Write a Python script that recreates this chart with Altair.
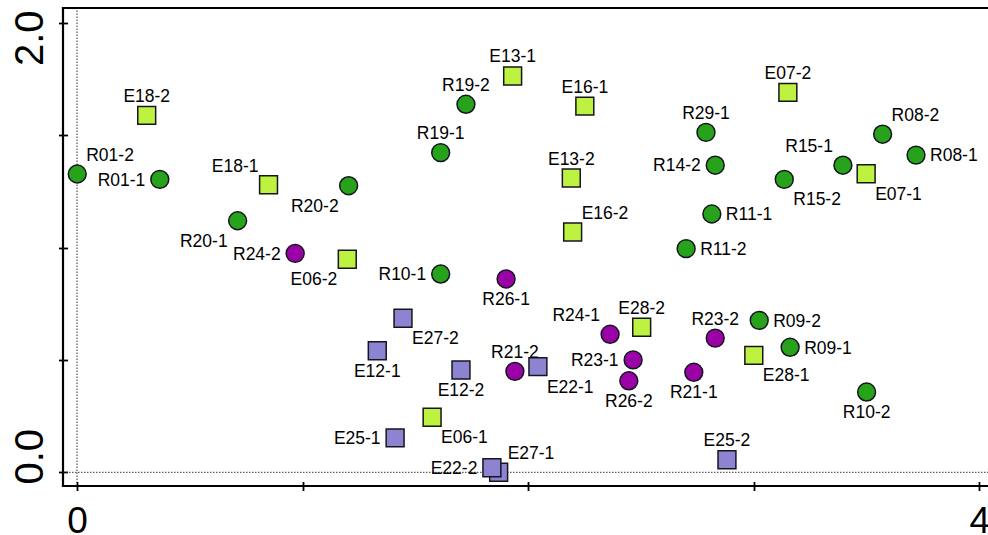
import altair as alt
import pandas as pd

# Sample coordinates on the first two ordination axes
names = [
    "R01-2", "R01-1", "E18-2", "E18-1", "R20-1", "R24-2", "R20-2", "E06-2",
    "E13-1", "R19-2", "E16-1", "R19-1", "E13-2", "E16-2", "E07-2", "R29-1",
    "R08-2", "R14-2", "R15-1", "R08-1", "E07-1", "R15-2", "R11-1", "R11-2",
    "R10-1", "R26-1", "E27-2", "R24-1", "E28-2", "E12-1", "E12-2", "R21-2",
    "E22-1", "R23-1", "R26-2", "E06-1", "E25-1", "E27-1", "E22-2", "R09-2",
    "R23-2", "R09-1", "E28-1", "R21-1", "R10-2", "E25-2",
]
x_vals = [
    0.001, 0.367, 0.309, 0.849, 0.712, 0.967, 1.204, 1.198,
    1.931, 1.724, 2.251, 1.612, 2.191, 2.197, 3.151, 2.788,
    3.571, 2.829, 3.395, 3.719, 3.498, 3.135, 2.814, 2.700,
    1.612, 1.902, 1.445, 2.363, 2.503, 1.331, 1.702, 1.941,
    2.043, 2.465, 2.446, 1.574, 1.410, 1.869, 1.839, 3.024,
    2.829, 3.161, 3.000, 2.734, 3.500, 2.881,
]
y_vals = [
    1.327, 1.303, 1.588, 1.279, 1.119, 0.974, 1.275, 0.948,
    1.763, 1.637, 1.629, 1.422, 1.309, 1.069, 1.690, 1.512,
    1.504, 1.366, 1.366, 1.411, 1.328, 1.303, 1.149, 0.995,
    0.882, 0.860, 0.685, 0.614, 0.645, 0.541, 0.455, 0.449,
    0.470, 0.500, 0.407, 0.245, 0.153, 0.000, 0.020, 0.676,
    0.597, 0.556, 0.520, 0.445, 0.357, 0.056,
]
groups = [
    "R-a", "R-a", "E-a", "E-a", "R-a", "R-b", "R-a", "E-a",
    "E-a", "R-a", "E-a", "R-a", "E-a", "E-a", "E-a", "R-a",
    "R-a", "R-a", "R-a", "R-a", "E-a", "R-a", "R-a", "R-a",
    "R-a", "R-b", "E-b", "R-b", "E-a", "E-b", "E-b", "R-b",
    "E-b", "R-b", "R-b", "E-a", "E-b", "E-b", "E-b", "R-a",
    "R-b", "R-a", "E-a", "R-b", "R-a", "E-b",
]

# Where each sample label sits relative to its marker
label_side = {
    "R01-2": "NE", "R01-1": "W", "E18-2": "N", "E18-1": "NW", "R20-1": "SW",
    "R24-2": "W", "R20-2": "SW", "E06-2": "SW", "E13-1": "N", "R19-2": "N",
    "E16-1": "N", "R19-1": "N", "E13-2": "N", "E16-2": "NE", "E07-2": "N",
    "R29-1": "N", "R08-2": "NE", "R14-2": "W", "R15-1": "NW", "R08-1": "E",
    "E07-1": "SE", "R15-2": "SE", "R11-1": "E", "R11-2": "E", "R10-1": "W",
    "R26-1": "S", "E27-2": "SE", "R24-1": "NW", "E28-2": "N", "E12-1": "S",
    "E12-2": "S", "R21-2": "N", "E22-1": "SE", "R23-1": "W", "R26-2": "S",
    "E06-1": "SE", "E25-1": "W", "E27-1": "NE", "E22-2": "W", "R09-2": "E",
    "R23-2": "N", "R09-1": "E", "E28-1": "SE", "R21-1": "S", "R10-2": "S",
    "E25-2": "N",
}

# side -> (align, dx, dy)
SIDE_STYLE = {
    "N": ("center", 0, -13.5),
    "S": ("center", 0, 26),
    "E": ("left", 14, 6.2),
    "W": ("right", -14.5, 6.2),
    "NE": ("left", 9, -13.2),
    "NW": ("right", -10, -13.2),
    "SE": ("left", 9, 26),
    "SW": ("right", -10, 26),
}

GROUP_DOMAIN = ["R-a", "R-b", "E-a", "E-b"]
FILLS = ["#27a31b", "#9a02a8", "#bdf240", "#8c84d1"]
SHAPES = ["circle", "circle", "square", "square"]
SIZES = [320, 320, 245, 245]

FONT = "Liberation Sans"
X_MIN, X_MAX = -0.0621, 4.0381
Y_MIN, Y_MAX = -0.0609, 2.0654

df = pd.DataFrame({"name": names, "x": x_vals, "y": y_vals, "group": groups})
df["side"] = df["name"].map(label_side)
one_row = pd.DataFrame({"k": [0]})

xs = alt.Scale(domain=[X_MIN, X_MAX], nice=False, zero=False)
ys = alt.Scale(domain=[Y_MIN, Y_MAX], nice=False, zero=False)

x_axis = alt.Axis(
    values=[0, 1, 2, 3, 4], format="d",
    labelExpr="datum.value == 0 || datum.value == 4 ? datum.label : ''",
    domain=False, grid=False, tickSize=9, tickWidth=1.8, tickColor="black",
    offset=-4.5, labelFont=FONT, labelFontSize=37, labelColor="black",
    labelPadding=13, labelFlush=False, labelOverlap=False, labelBound=False,
    title=None,
)
y_axis = alt.Axis(
    values=[0, 0.5, 1, 1.5, 2], format=".1f",
    labelExpr="datum.value == 0 || datum.value == 2 ? datum.label : ''",
    domain=False, grid=False, tickSize=9, tickWidth=1.8, tickColor="black",
    offset=-4.5, labelFont=FONT, labelFontSize=40, labelColor="black",
    labelAngle=270, labelAlign="center", labelBaseline="alphabetic",
    labelPadding=16.5,
    labelOffset={"condition": {"test": "datum.value == 2", "value": 15}, "value": -16},
    labelFlush=False, labelOverlap=False, labelBound=False, title=None,
)


def xd(v):
    return alt.XDatum(v, type="quantitative", scale=xs, axis=x_axis)


def yd(v):
    return alt.YDatum(v, type="quantitative", scale=ys, axis=y_axis)


# Frame: top, left and bottom edges of the plotting region
frame_style = dict(color="black", strokeWidth=2.2, strokeCap="square")
frame_top = alt.Chart(one_row).mark_rule(**frame_style).encode(
    x=xd(X_MIN), x2=alt.X2Datum(X_MAX), y=yd(Y_MAX)
)
frame_bottom = alt.Chart(one_row).mark_rule(**frame_style).encode(
    x=xd(X_MIN), x2=alt.X2Datum(X_MAX), y=yd(Y_MIN)
)
frame_left = alt.Chart(one_row).mark_rule(**frame_style).encode(
    x=xd(X_MIN), y=yd(Y_MIN), y2=alt.Y2Datum(Y_MAX)
)

# Dotted reference lines through the origin
dot_style = dict(color="#333333", strokeWidth=1, strokeDash=[1.5, 1.5])
zero_v = alt.Chart(one_row).mark_rule(**dot_style).encode(
    x=xd(0), y=yd(Y_MIN), y2=alt.Y2Datum(Y_MAX)
)
zero_h = alt.Chart(one_row).mark_rule(**dot_style).encode(
    x=xd(X_MIN), x2=alt.X2Datum(X_MAX), y=yd(0)
)

points = alt.Chart(df).mark_point(
    filled=True, opacity=1, stroke="#15151f", strokeWidth=1.5
).encode(
    x=alt.X("x:Q", scale=xs, axis=x_axis),
    y=alt.Y("y:Q", scale=ys, axis=y_axis),
    color=alt.Color("group:N", scale=alt.Scale(domain=GROUP_DOMAIN, range=FILLS), legend=None),
    shape=alt.Shape("group:N", scale=alt.Scale(domain=GROUP_DOMAIN, range=SHAPES), legend=None),
    size=alt.Size("group:N", scale=alt.Scale(domain=GROUP_DOMAIN, range=SIZES), legend=None),
)

text_layers = []
for side, (align, dx, dy) in SIDE_STYLE.items():
    text_layers.append(
        alt.Chart(df).transform_filter(alt.datum.side == side).mark_text(
            align=align, baseline="alphabetic", dx=dx, dy=dy,
            font=FONT, fontSize=17.5, color="black",
        ).encode(
            x=alt.X("x:Q", scale=xs, axis=x_axis),
            y=alt.Y("y:Q", scale=ys, axis=y_axis),
            text="name:N",
        )
    )

chart = alt.layer(
    zero_v, zero_h, frame_top, frame_bottom, frame_left, points, *text_layers
).properties(
    width=925,
    height=478,
    autosize=alt.AutoSizeParams(type="none"),
    padding={"left": 63, "top": 8, "right": 0, "bottom": 49},
    background="white",
).configure_view(strokeWidth=0, stroke="transparent")

chart.save("out.html", embed_options={"renderer": "svg", "actions": False})
